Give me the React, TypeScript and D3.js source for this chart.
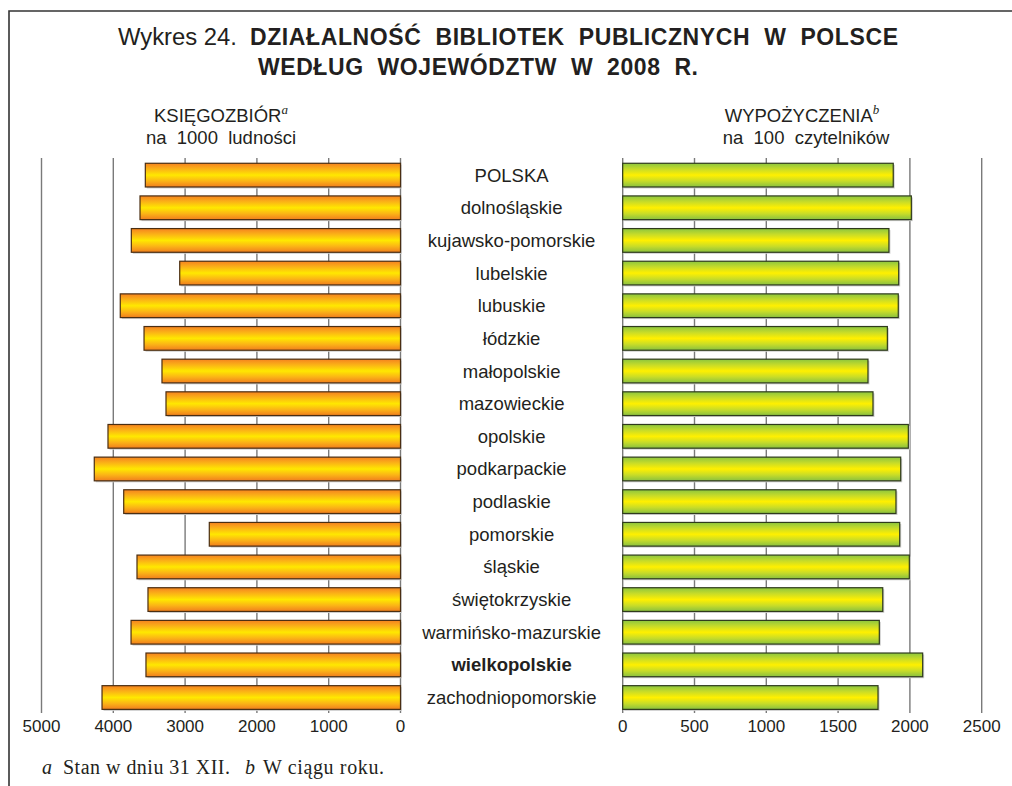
import React from "react";
import * as d3 from "d3";

const categories = [
  "POLSKA",
  "dolnośląskie",
  "kujawsko-pomorskie",
  "lubelskie",
  "lubuskie",
  "łódzkie",
  "małopolskie",
  "mazowieckie",
  "opolskie",
  "podkarpackie",
  "podlaskie",
  "pomorskie",
  "śląskie",
  "świętokrzyskie",
  "warmińsko-mazurskie",
  "wielkopolskie",
  "zachodniopomorskie",
];

const ksiegozbior = [3554, 3628, 3749, 3075, 3903, 3572, 3322, 3266, 4074, 4265, 3855, 2663, 3670, 3517, 3753, 3545, 4157];
const wypozyczenia = [1884, 2010, 1854, 1922, 1919, 1843, 1708, 1743, 1989, 1936, 1903, 1929, 1996, 1811, 1787, 2089, 1778];

const leftTicks = [5000, 4000, 3000, 2000, 1000, 0];
const rightTicks = [0, 500, 1000, 1500, 2000, 2500];
const boldCategory = "wielkopolskie";

const W = 1012;
const H = 786;
const SANS = "'Liberation Sans', Arial, sans-serif";
const SERIF = "'Liberation Serif', 'Times New Roman', serif";

export default function App() {
  const y = d3
    .scaleBand<string>()
    .domain(categories)
    .range([158.8, 158.8 + 17 * 32.65])
    .paddingInner(0.274)
    .paddingOuter(0.137);
  const xl = d3.scaleLinear().domain([0, 5000]).range([400.5, 41.5]);
  const xr = d3.scaleLinear().domain([0, 2500]).range([622.7, 981.7]);
  const gridTop = 158;
  const gridBottom = 713;
  const bh = y.bandwidth();
  const labelX = (xl(0) + xr(0)) / 2;

  return (
    <svg
      width={W}
      height={H}
      style={{ position: "absolute", left: 0, top: 0, background: "#fff" }}
      xmlns="http://www.w3.org/2000/svg"
    >
      <defs>
        <linearGradient id="gOrange" x1="0" y1="0" x2="0" y2="1">
          <stop offset="0" stopColor="#f58220" />
          <stop offset="0.25" stopColor="#fbb416" />
          <stop offset="0.5" stopColor="#ffe800" />
          <stop offset="0.75" stopColor="#fbb416" />
          <stop offset="1" stopColor="#f07d1e" />
        </linearGradient>
        <linearGradient id="gGreen" x1="0" y1="0" x2="0" y2="1">
          <stop offset="0" stopColor="#8cc63f" />
          <stop offset="0.25" stopColor="#c8dc28" />
          <stop offset="0.5" stopColor="#fff000" />
          <stop offset="0.75" stopColor="#c8dc28" />
          <stop offset="1" stopColor="#88c040" />
        </linearGradient>
      </defs>
      <rect x={0} y={0} width={W} height={H} fill="#fff" />

      {/* frame */}
      <path d={`M9,786 L9,11 L1012,11`} fill="none" stroke="#333" strokeWidth={1.6} />

      {/* title */}
      <text x={118} y={45} fontFamily={SANS} fontSize={23.5} fill="#231f20" textLength={119} lengthAdjust="spacingAndGlyphs">
        Wykres 24.
      </text>
      <text
        x={250}
        y={45}
        fontFamily={SANS}
        fontSize={23}
        fontWeight="bold"
        fill="#231f20"
        textLength={648}
        lengthAdjust="spacing"
        xmlSpace="preserve"
      >
        {"DZIAŁALNOŚĆ  BIBLIOTEK  PUBLICZNYCH  W  POLSCE"}
      </text>
      <text
        x={258}
        y={75}
        fontFamily={SANS}
        fontSize={23}
        fontWeight="bold"
        fill="#231f20"
        textLength={440}
        lengthAdjust="spacing"
        xmlSpace="preserve"
      >
        {"WEDŁUG  WOJEWÓDZTW  W  2008  R."}
      </text>

      {/* panel headers */}
      <text x={221} y={122} textAnchor="middle" fontFamily={SANS} fontSize={18.5} fill="#231f20">
        KSIĘGOZBIÓR
        <tspan fontFamily={SERIF} fontStyle="italic" fontSize={13} dy={-8}>a</tspan>
      </text>
      <text x={221} y={144} textAnchor="middle" fontFamily={SANS} fontSize={18.5} fill="#231f20" xmlSpace="preserve">
        {"na  1000  ludności"}
      </text>
      <text x={802} y={122} textAnchor="middle" fontFamily={SANS} fontSize={18.5} fill="#231f20">
        WYPOŻYCZENIA
        <tspan fontFamily={SERIF} fontStyle="italic" fontSize={13} dy={-8}>b</tspan>
      </text>
      <text x={806} y={144} textAnchor="middle" fontFamily={SANS} fontSize={18.5} fill="#231f20" xmlSpace="preserve">
        {"na  100  czytelników"}
      </text>

      {/* gridlines */}
      {leftTicks.map((t) => (
        <line key={"gl" + t} x1={xl(t)} x2={xl(t)} y1={gridTop} y2={gridBottom} stroke="#7a7a7a" strokeWidth={1.4} />
      ))}
      {rightTicks.map((t) => (
        <line key={"gr" + t} x1={xr(t)} x2={xr(t)} y1={gridTop} y2={gridBottom} stroke="#7a7a7a" strokeWidth={1.4} />
      ))}

      {/* left bars */}
      {categories.map((c, i) => {
        const y0 = y(c)!;
        const x0 = xl(ksiegozbior[i]);
        const w = xl(0) - x0;
        return (
          <g key={"l" + c}>
            <rect x={x0 + 1.5} y={y0 + 1.5} width={w} height={bh} fill="#cfcfcf" />
            <rect x={x0} y={y0} width={w} height={bh} fill="url(#gOrange)" stroke="#4a2e12" strokeWidth={1.2} />
          </g>
        );
      })}

      {/* right bars */}
      {categories.map((c, i) => {
        const y0 = y(c)!;
        const x0 = xr(0);
        const w = xr(wypozyczenia[i]) - x0;
        return (
          <g key={"r" + c}>
            <rect x={x0 + 1.5} y={y0 + 1.5} width={w} height={bh} fill="#cfcfcf" />
            <rect x={x0} y={y0} width={w} height={bh} fill="url(#gGreen)" stroke="#2f3a1c" strokeWidth={1.2} />
          </g>
        );
      })}

      {/* category labels */}
      {categories.map((c) => (
        <text
          key={"t" + c}
          x={labelX}
          y={y(c)! + bh / 2 + 6.5}
          textAnchor="middle"
          fontFamily={SANS}
          fontSize={18.5}
          fontWeight={c === boldCategory ? "bold" : "normal"}
          fill="#231f20"
        >
          {c}
        </text>
      ))}

      {/* tick labels */}
      {leftTicks.map((t) => (
        <text key={"tl" + t} x={xl(t)} y={732} textAnchor="middle" fontFamily={SANS} fontSize={17} fill="#231f20">
          {t}
        </text>
      ))}
      {rightTicks.map((t) => (
        <text key={"tr" + t} x={xr(t)} y={732} textAnchor="middle" fontFamily={SANS} fontSize={17} fill="#231f20">
          {t}
        </text>
      ))}

      {/* footnote */}
      <text y={774} fontFamily={SERIF} fontSize={20} fill="#231f20">
        <tspan x={42} fontStyle="italic">a</tspan>
        <tspan x={63} textLength={167} lengthAdjust="spacing">Stan w dniu 31 XII.</tspan>
        <tspan x={245} fontStyle="italic">b</tspan>
        <tspan x={263} textLength={121} lengthAdjust="spacing">W ciągu roku.</tspan>
      </text>
    </svg>
  );
}
